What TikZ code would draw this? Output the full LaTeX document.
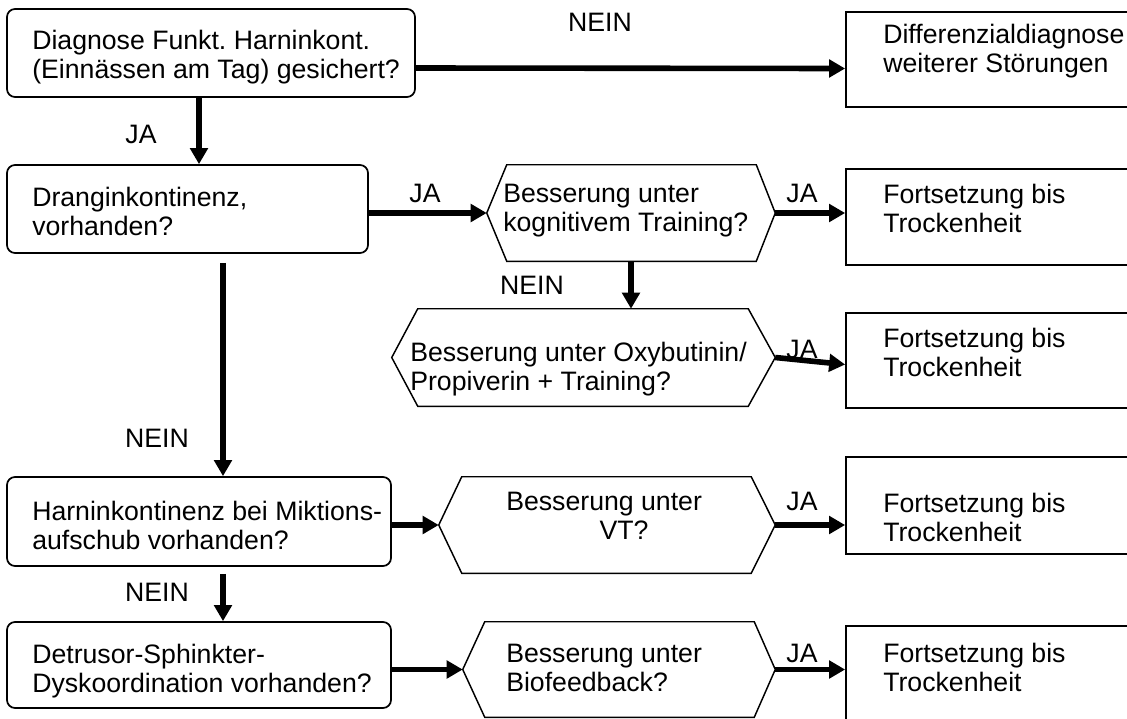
\documentclass[tikz,border=0pt]{standalone}
\usepackage{fontspec}
\setmainfont{Liberation Sans}
\usetikzlibrary{arrows.meta,calc,fit}
\frenchspacing

% natural interword spacing inside aligned nodes
\newcommand\natsp{\spaceskip=0pt\xspaceskip=0pt\relax}

\tikzset{
  rbox/.style={draw, line width=1.3pt, rounded corners=6pt, inner sep=0pt},
  sbox/.style={draw, line width=1.3pt, inner sep=0pt},
  hexarea/.style={inner sep=0pt},
  hexline/.style={draw, line width=1.1pt, line join=miter},
  txt/.style={anchor=base west, inner sep=0pt, text width=12cm, align=flush left,
              font=\fontsize{20}{22}\selectfont\natsp, execute at begin node=\natsp},
  lbl/.style={inner sep=0pt, font=\fontsize{20}{22}\selectfont},
  arr/.style={line width=4.2pt, -{Triangle[length=12pt,width=13pt]}},
}

% hexagonal decision shape drawn round a fitted node
\newcommand\hexpath[3]{%
  \draw[hexline] (#1.west) -- ($(#1.north west)+(#2,0)$) -- ($(#1.north east)+(-#3,0)$)
    -- (#1.east) -- ($(#1.south east)+(-#3,0)$) -- ($(#1.south west)+(#2,0)$) -- cycle;}

\begin{document}
\begin{tikzpicture}[x=0.75pt,y=-0.75pt]
\useasboundingbox (0,0) rectangle (1127,718);

% left column of questions
\node (A) [rbox, fit={(7,9) (415,97)}] {};
\node (B) [rbox, fit={(7,165) (368,253)}] {};
\node (C) [rbox, fit={(7,477) (391,566)}] {};
\node (D) [rbox, fit={(7,622) (391,708)}] {};

% outcome boxes on the right
\node (F1) [sbox, fit={(846,12) (1140,107)}] {};
\node (F2) [sbox, fit={(846,169) (1140,265)}] {};
\node (F3) [sbox, fit={(846,313) (1140,408)}] {};
\node (F4) [sbox, fit={(846,457) (1140,554)}] {};
\node (F5) [sbox, fit={(846,626) (1140,730)}] {};

% treatment checks
\node (H1) [hexarea, fit={(487,165) (775,261)}] {};
\node (H2) [hexarea, fit={(392,309) (775,406)}] {};
\node (H3) [hexarea, fit={(439,477) (775,573)}] {};
\node (H4) [hexarea, fit={(463,622) (775,717)}] {};
\hexpath{H1}{20}{19}
\hexpath{H2}{26}{27}
\hexpath{H3}{23}{24}
\hexpath{H4}{22}{21}

% texts
\node (tA) [txt] at (32,49) {Diagnose Funkt. Harninkont.\\(Einnässen am Tag) gesichert?};
\node (tB) [txt] at (32,206) {Dranginkontinenz,\\vorhanden?};
\node (tC) [txt] at (32,520) {Harninkontinenz bei Miktions-\\aufschub vorhanden?};
\node (tD) [txt] at (32,663) {Detrusor-Sphinkter-\\Dyskoordination vorhanden?};
\node (tH1) [txt] at (503,202) {Besserung unter\\kognitivem Training?};
\node (tH2) [txt] at (410,361) {Besserung unter Oxybutinin/\\Propiverin + Training?};
\node (tH3) [txt] at (506,510) {Besserung unter\\\hspace*{70pt}VT?};
\node (tH4) [txt] at (506,662) {Besserung unter\\Biofeedback?};
\node (tF1) [txt] at (883,43) {Differenzialdiagnose\\weiterer Störungen};
\node (tF2) [txt] at (883,203) {Fortsetzung bis\\Trockenheit};
\node (tF3) [txt] at (883,347) {Fortsetzung bis\\Trockenheit};
\node (tF4) [txt] at (883,512) {Fortsetzung bis\\Trockenheit};
\node (tF5) [txt] at (883,662) {Fortsetzung bis\\Trockenheit};

% connectors
\draw[arr] ($(A.east)+(0,15)$) -- ($(F1.west)+(0,9)$);
\draw[arr] ($(A.south)+(-12,0)$) -- ($(B.north)+(11.5,0)$);
\draw[arr] (H1.west -| B.east) -- (H1.west);
\draw[arr] (H1.east) -- (H1.east -| F2.west);
\draw[arr] (H1.south) -- (H1.south |- H2.north);
\draw[arr] (H2.east) -- ($(F3.west)+(0,4)$);
\draw[arr] ($(B.south)+(35.5,9)$) -- ($(C.north)+(24,0)$);
\draw[arr] (H3.west -| C.east) -- (H3.west);
\draw[arr] (H3.east) -- (H3.east -| F4.west);
\draw[arr] ($(C.south)+(24,7)$) -- ($(D.north)+(24,0)$);
\draw[arr] (H4.west -| D.east) -- (H4.west);
\draw[arr] (H4.east) -- (H4.east -| F5.west);

% branch labels
\node (l1) [lbl] at (600,22) {NEIN};
\node (l2) [lbl] at (141,134) {JA};
\node (l3) [lbl] at (425,193) {JA};
\node (l4) [lbl] at (802,193) {JA};
\node (l5) [lbl] at (532,285) {NEIN};
\node (l6) [lbl] at (802,349) {JA};
\node (l7) [lbl] at (157,438) {NEIN};
\node (l8) [lbl] at (802,501) {JA};
\node (l9) [lbl] at (157,592) {NEIN};
\node (l10) [lbl] at (802,653) {JA};
\end{tikzpicture}
\end{document}
